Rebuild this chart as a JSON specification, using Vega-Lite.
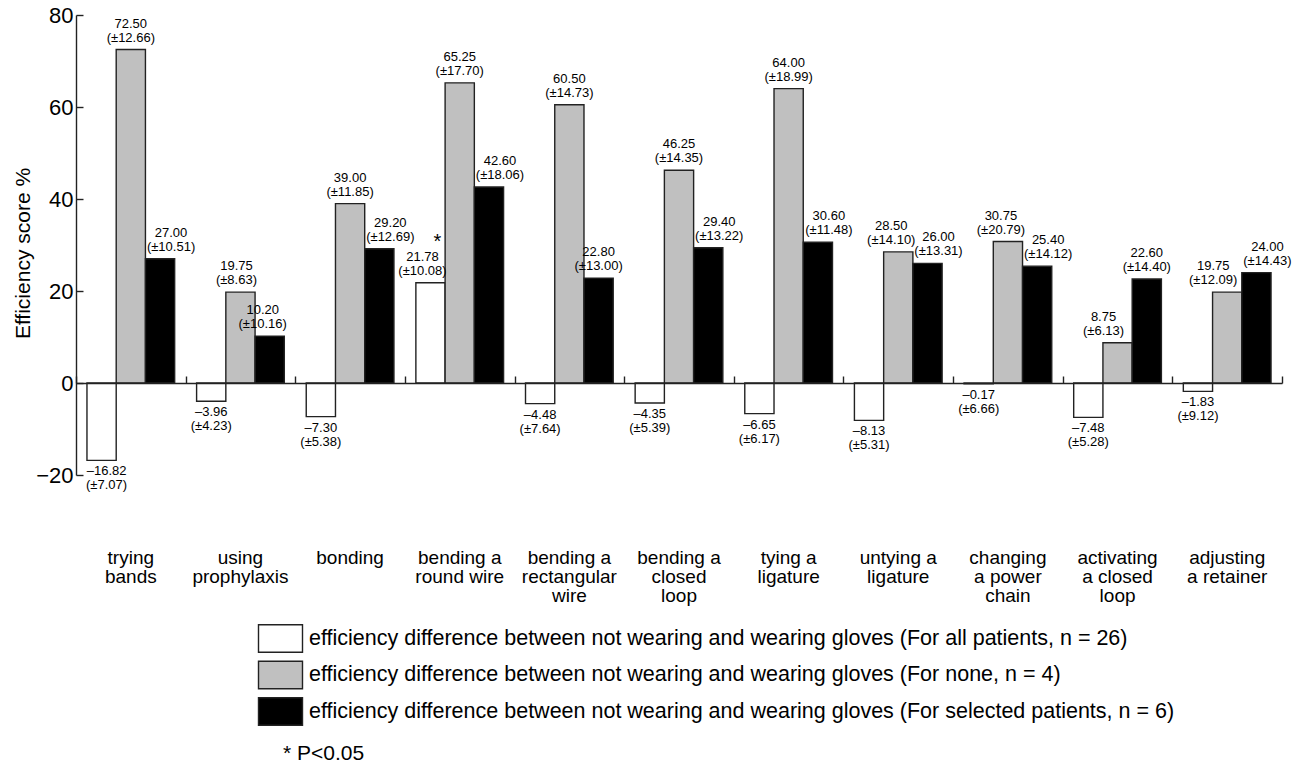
{
  "$schema": "https://vega.github.io/schema/vega-lite/v6.json",
  "width": 1206,
  "height": 460,
  "autosize": {"type": "none"},
  "padding": {"left": 76, "top": 15, "right": 14, "bottom": 289},
  "background": "white",
  "config": {"font": "Liberation Sans", "view": {"stroke": null}, "axis": {"grid": false}},
  "title": {"text": "* P<0.05", "orient": "bottom", "anchor": "start", "frame": "group", "dx": 207, "offset": 14, "fontSize": 21, "fontWeight": "normal", "color": "#000000"},
  "data": {"values": [
    {"task": "trying|bands", "group": "all", "value": -16.82, "val": "–16.82", "sd": "(±7.07)"},
    {"task": "trying|bands", "group": "none", "value": 72.5, "val": "72.50", "sd": "(±12.66)"},
    {"task": "trying|bands", "group": "selected", "value": 27.0, "val": "27.00", "sd": "(±10.51)"},
    {"task": "using|prophylaxis", "group": "all", "value": -3.96, "val": "–3.96", "sd": "(±4.23)"},
    {"task": "using|prophylaxis", "group": "none", "value": 19.75, "val": "19.75", "sd": "(±8.63)"},
    {"task": "using|prophylaxis", "group": "selected", "value": 10.2, "val": "10.20", "sd": "(±10.16)"},
    {"task": "bonding", "group": "all", "value": -7.3, "val": "–7.30", "sd": "(±5.38)"},
    {"task": "bonding", "group": "none", "value": 39.0, "val": "39.00", "sd": "(±11.85)"},
    {"task": "bonding", "group": "selected", "value": 29.2, "val": "29.20", "sd": "(±12.69)"},
    {"task": "bending a|round wire", "group": "all", "value": 21.78, "val": "21.78", "sd": "(±10.08)", "sig": "*"},
    {"task": "bending a|round wire", "group": "none", "value": 65.25, "val": "65.25", "sd": "(±17.70)"},
    {"task": "bending a|round wire", "group": "selected", "value": 42.6, "val": "42.60", "sd": "(±18.06)"},
    {"task": "bending a|rectangular|wire", "group": "all", "value": -4.48, "val": "–4.48", "sd": "(±7.64)"},
    {"task": "bending a|rectangular|wire", "group": "none", "value": 60.5, "val": "60.50", "sd": "(±14.73)"},
    {"task": "bending a|rectangular|wire", "group": "selected", "value": 22.8, "val": "22.80", "sd": "(±13.00)"},
    {"task": "bending a|closed|loop", "group": "all", "value": -4.35, "val": "–4.35", "sd": "(±5.39)"},
    {"task": "bending a|closed|loop", "group": "none", "value": 46.25, "val": "46.25", "sd": "(±14.35)"},
    {"task": "bending a|closed|loop", "group": "selected", "value": 29.4, "val": "29.40", "sd": "(±13.22)"},
    {"task": "tying a|ligature", "group": "all", "value": -6.65, "val": "–6.65", "sd": "(±6.17)"},
    {"task": "tying a|ligature", "group": "none", "value": 64.0, "val": "64.00", "sd": "(±18.99)"},
    {"task": "tying a|ligature", "group": "selected", "value": 30.6, "val": "30.60", "sd": "(±11.48)"},
    {"task": "untying a|ligature", "group": "all", "value": -8.13, "val": "–8.13", "sd": "(±5.31)"},
    {"task": "untying a|ligature", "group": "none", "value": 28.5, "val": "28.50", "sd": "(±14.10)"},
    {"task": "untying a|ligature", "group": "selected", "value": 26.0, "val": "26.00", "sd": "(±13.31)"},
    {"task": "changing|a power|chain", "group": "all", "value": -0.17, "val": "–0.17", "sd": "(±6.66)"},
    {"task": "changing|a power|chain", "group": "none", "value": 30.75, "val": "30.75", "sd": "(±20.79)"},
    {"task": "changing|a power|chain", "group": "selected", "value": 25.4, "val": "25.40", "sd": "(±14.12)"},
    {"task": "activating|a closed|loop", "group": "all", "value": -7.48, "val": "–7.48", "sd": "(±5.28)"},
    {"task": "activating|a closed|loop", "group": "none", "value": 8.75, "val": "8.75", "sd": "(±6.13)"},
    {"task": "activating|a closed|loop", "group": "selected", "value": 22.6, "val": "22.60", "sd": "(±14.40)"},
    {"task": "adjusting|a retainer", "group": "all", "value": -1.83, "val": "–1.83", "sd": "(±9.12)"},
    {"task": "adjusting|a retainer", "group": "none", "value": 19.75, "val": "19.75", "sd": "(±12.09)"},
    {"task": "adjusting|a retainer", "group": "selected", "value": 24.0, "val": "24.00", "sd": "(±14.43)"}
  ]},
  "encoding": {
    "xOffset": {"field": "group", "type": "nominal", "sort": null, "scale": {"paddingInner": 0, "paddingOuter": 0.375}},
    "y": {"field": "value", "type": "quantitative", "scale": {"domain": [-20, 80], "nice": false, "zero": false},
      "axis": {"title": "Efficiency score %", "titleFontSize": 21, "titleFontWeight": "normal", "titleColor": "#000000", "titleX": -43, "titleY": 238,
        "values": [-20, 0, 20, 40, 60, 80], "labelFontSize": 22, "labelColor": "#000000", "tickSize": -7, "labelPadding": 10,
        "domainColor": "#222222", "tickColor": "#222222", "domainWidth": 1.4, "tickWidth": 1.4}}
  },
  "resolve": {"axis": {"x": "independent"}},
  "layer": [
    {
      "mark": {"type": "bar", "stroke": "#222222", "strokeWidth": 1.4},
      "encoding": {
        "x": {"field": "task", "type": "nominal", "sort": null, "scale": {"paddingInner": 0, "paddingOuter": 0},
          "axis": {"title": null, "orient": "bottom", "domain": false, "ticks": false, "tickSize": 0, "labelPadding": 73, "labelFontSize": 19, "labelAngle": 0,
            "labelColor": "#000000", "labelBaseline": "top", "labelLineHeight": 19, "labelLimit": 0, "labelExpr": "split(datum.label, '|')"}},
        "color": {"field": "group", "type": "nominal",
          "scale": {"domain": ["all", "none", "selected"], "range": ["#ffffff", "#c0c0c0", "#000000"]},
          "legend": {"orient": "none", "legendX": 190, "legendY": 609, "title": null, "padding": 0,
            "symbolType": "M-1.6,-1H1.6V1H-1.6Z", "symbolSize": 756, "symbolStrokeColor": "#222222", "symbolStrokeWidth": 1.4,
            "labelFontSize": 21.5, "labelColor": "#000000", "labelOffset": 14, "rowPadding": 1.5, "labelLimit": 0,
            "labelExpr": "datum.label == 'all' ? 'efficiency difference between not wearing and wearing gloves (For all patients, n = 26)' : datum.label == 'none' ? 'efficiency difference between not wearing and wearing gloves (For none, n = 4)' : '\u00a0efficiency difference between not wearing and wearing gloves (For selected patients, n = 6)'"}}
      }
    },
    {
      "transform": [{"filter": "datum.value >= 0"}],
      "mark": {"type": "text", "fontSize": 13, "baseline": "bottom", "dy": -5, "color": "#000000",
        "dx": {"expr": "datum.group == 'selected' ? (datum.task == 'using|prophylaxis' ? -7 : (datum.task == 'bending a|rectangular|wire' || datum.task == 'activating|a closed|loop') ? 0 : 11) : datum.group == 'none' ? ((datum.task == 'untying a|ligature' || datum.task == 'changing|a power|chain') ? -7 : (datum.task == 'activating|a closed|loop' || datum.task == 'adjusting|a retainer') ? -14 : datum.task == 'using|prophylaxis' ? -4 : 0) : (datum.task == 'bending a|round wire' ? -8 : datum.task == 'trying|bands' ? 5 : 0)"}},
      "encoding": {
        "x": {"field": "task", "type": "nominal", "sort": null,
          "axis": {"title": null, "orient": "bottom", "offset": -92, "labels": false, "tickBand": "extent", "tickSize": -7,
            "domainColor": "#222222", "tickColor": "#222222", "domainWidth": 1.4, "tickWidth": 1.4, "zindex": 1}},
        "text": {"field": "sd"}
      }
    },
    {
      "transform": [{"filter": "datum.value >= 0"}],
      "mark": {"type": "text", "fontSize": 13, "baseline": "bottom", "dy": -19, "color": "#000000",
        "dx": {"expr": "datum.group == 'selected' ? (datum.task == 'using|prophylaxis' ? -7 : (datum.task == 'bending a|rectangular|wire' || datum.task == 'activating|a closed|loop') ? 0 : 11) : datum.group == 'none' ? ((datum.task == 'untying a|ligature' || datum.task == 'changing|a power|chain') ? -7 : (datum.task == 'activating|a closed|loop' || datum.task == 'adjusting|a retainer') ? -14 : datum.task == 'using|prophylaxis' ? -4 : 0) : (datum.task == 'bending a|round wire' ? -8 : datum.task == 'trying|bands' ? 5 : 0)"}},
      "encoding": {
        "x": {"field": "task", "type": "nominal", "sort": null, "axis": null},
        "text": {"field": "val"}
      }
    },
    {
      "transform": [{"filter": "isValid(datum.sig)"}],
      "mark": {"type": "text", "fontSize": 20, "baseline": "bottom", "dy": -31, "dx": 7, "color": "#000000"},
      "encoding": {
        "x": {"field": "task", "type": "nominal", "sort": null, "axis": null},
        "text": {"field": "sig"}
      }
    },
    {
      "transform": [{"filter": "datum.value < 0"}],
      "mark": {"type": "text", "fontSize": 13, "baseline": "top", "dy": 5, "color": "#000000",
        "dx": {"expr": "datum.task == 'trying|bands' ? 5 : 0"}},
      "encoding": {
        "x": {"field": "task", "type": "nominal", "sort": null, "axis": null},
        "text": {"field": "val"}
      }
    },
    {
      "transform": [{"filter": "datum.value < 0"}],
      "mark": {"type": "text", "fontSize": 13, "baseline": "top", "dy": 19, "color": "#000000",
        "dx": {"expr": "datum.task == 'trying|bands' ? 5 : 0"}},
      "encoding": {
        "x": {"field": "task", "type": "nominal", "sort": null, "axis": null},
        "text": {"field": "sd"}
      }
    }
  ]
}
